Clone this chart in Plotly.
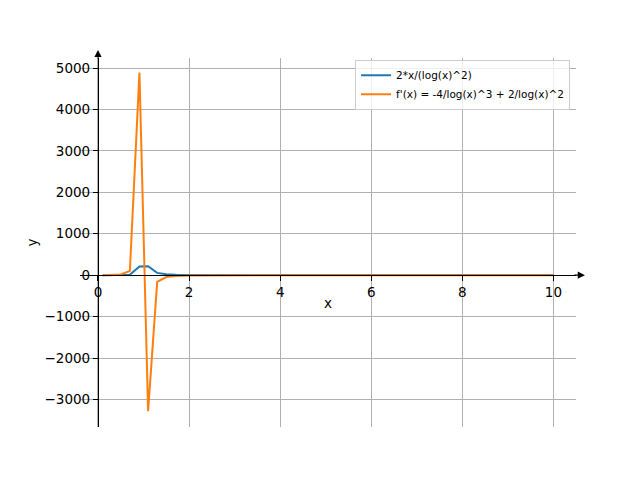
import plotly.graph_objects as go

# Data
x_vals = [0.1, 0.3, 0.5, 0.7, 0.91, 1.1, 1.3, 1.5, 1.7, 2.0, 2.5, 3.0, 4.0, 5.0, 6.0, 7.0, 8.0, 9.0, 10.0]
f_vals = [0.05, 0.4, 2, 10, 210, 215, 55, 20, 12, 8, 6, 5, 4.2, 4, 3.9, 3.8, 3.8, 3.8, 3.8]
df_vals = [0, 4, 16, 105, 4890, -3280, -160, -45, -20, -10, -4, -2, -1, -0.6, -0.4, -0.3, -0.2, -0.2, -0.1]

name_f = "2*x/(log(x)^2)"
name_df = "f'(x) = -4/log(x)^3 + 2/log(x)^2"

x_ticks = [0, 2, 4, 6, 8, 10]
y_ticks = [-3000, -2000, -1000, 0, 1000, 2000, 3000, 4000, 5000]

x_range = [-0.395, 10.495]
y_range = [-3664, 5242]

fig = go.Figure()
fig.add_trace(go.Scatter(x=x_vals, y=f_vals, mode="lines", name=name_f,
                         line=dict(color="#1f77b4", width=2)))
fig.add_trace(go.Scatter(x=x_vals, y=df_vals, mode="lines", name=name_df,
                         line=dict(color="#ff7f0e", width=2)))

# fractional positions of the zero lines (spines at zero)
x0_frac = (0 - x_range[0]) / (x_range[1] - x_range[0])
y0_frac = (0 - y_range[0]) / (y_range[1] - y_range[0])

font = dict(family="DejaVu Sans", size=13.5, color="black")

fig.update_layout(
    width=640, height=480,
    margin=dict(l=80, r=64, t=58, b=53),
    paper_bgcolor="white", plot_bgcolor="white",
    font=font,
    showlegend=True,
    legend=dict(x=0.988, y=0.995, xanchor="right", yanchor="top",
                bgcolor="rgba(255,255,255,0.8)", bordercolor="#cccccc", borderwidth=1,
                font=dict(family="DejaVu Sans", size=10.5, color="black"),
                tracegroupgap=0),
    xaxis=dict(range=x_range, tickvals=x_ticks, anchor="free", position=y0_frac,
               showline=True, linecolor="black", linewidth=1.2,
               ticks="outside", ticklen=5, tickwidth=1, tickcolor="black",
               showgrid=True, gridcolor="#b0b0b0", gridwidth=0.8, zeroline=False),
    yaxis=dict(range=y_range, tickvals=y_ticks, anchor="free", position=x0_frac,
               showline=True, linecolor="black", linewidth=1.2,
               ticks="outside", ticklen=5, tickwidth=1, tickcolor="black",
               showgrid=True, gridcolor="#b0b0b0", gridwidth=0.8, zeroline=False),
)

# axis labels
fig.add_annotation(x=0.5, y=0.336, xref="paper", yref="paper", text="x",
                   showarrow=False, font=font, xanchor="center", yanchor="middle")
fig.add_annotation(x=-0.0968, y=0.5, xref="paper", yref="paper", text="y",
                   showarrow=False, font=font, textangle=-90,
                   xanchor="center", yanchor="middle")

# arrowheads at the end of the spines
fig.add_annotation(x=1.018, y=y0_frac, xref="paper", yref="paper", text="",
                   showarrow=True, ax=-12, ay=0, arrowhead=2, arrowsize=1.2,
                   arrowwidth=1.2, arrowcolor="black")
fig.add_annotation(x=x0_frac, y=1.022, xref="paper", yref="paper", text="",
                   showarrow=True, ax=0, ay=10, arrowhead=2, arrowsize=1.2,
                   arrowwidth=1.2, arrowcolor="black")

fig.write_html("out.html", config={"displayModeBar": False},
               post_script="document.body.style.margin='0';")
